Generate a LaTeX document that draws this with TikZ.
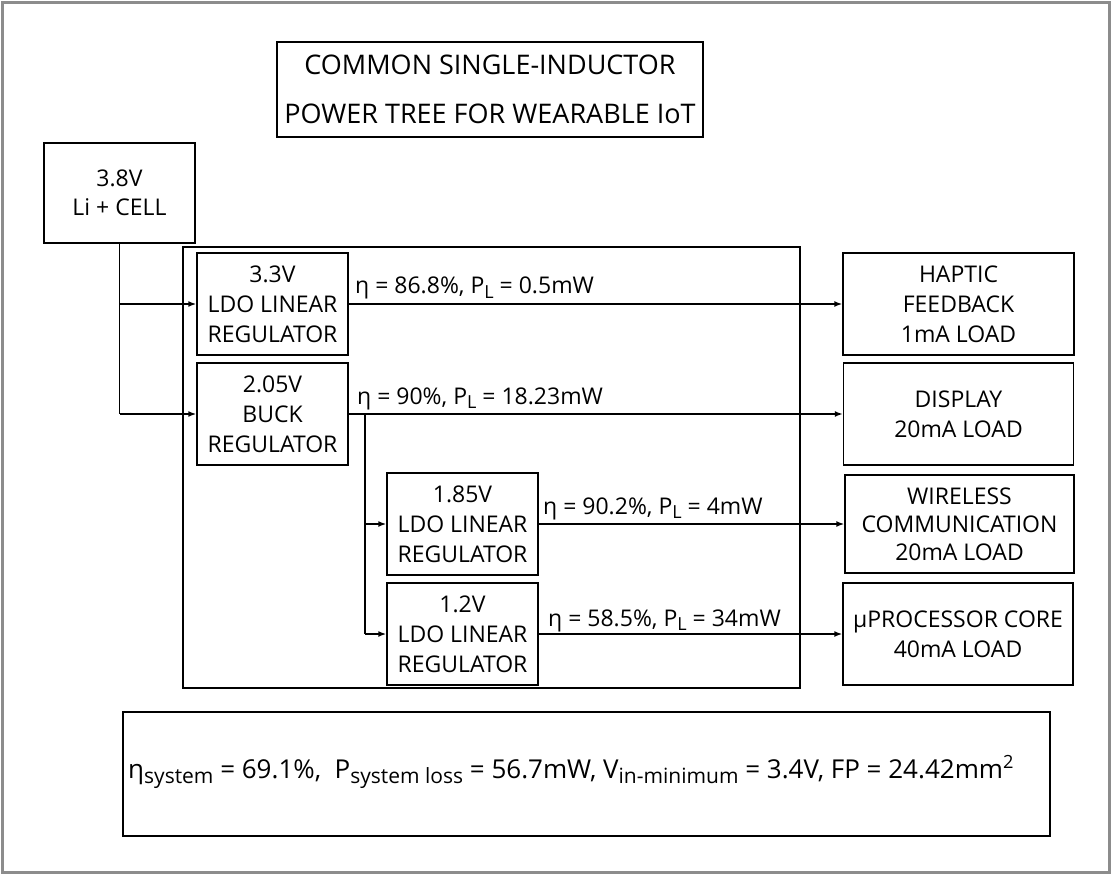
\documentclass[tikz,border=0pt]{standalone}
\usepackage{fontspec}
\setmainfont{Open Sans}
\usetikzlibrary{arrows.meta}
\newcommand{\lsub}[1]{\raisebox{-0.35ex}{\fontsize{18}{18}\selectfont #1}}
\newcommand{\bsub}[1]{\raisebox{-0.4ex}{\fontsize{21}{21}\selectfont #1}}
\begin{document}
\begin{tikzpicture}[x=1pt,y=-1pt,
  box/.style={draw=black, line width=1.5, inner sep=0pt, align=center,
    font=\fontsize{23}{30}\selectfont},
  lbl/.style={inner sep=0pt, anchor=base west, font=\fontsize{23}{26}\selectfont},
  conn/.style={draw=black, line width=1.5},
  arr/.style={conn, -{Latex[length=8,width=6]}}]
\useasboundingbox (0,0) rectangle (1113,874);
\draw[draw=gray!90, line width=3] (2.5,2.5) rectangle (1109,872);

% title
\node[box, minimum width=426, minimum height=95,
  font=\fontsize{27}{49}\selectfont] (title) at (490,89.5)
  {COMMON SINGLE-INDUCTOR\\POWER TREE FOR WEARABLE IoT};

% battery
\node[box, minimum width=151, minimum height=100, font=\fontsize{23}{29}\selectfont] (bat) at (119.5,193)
  {3.8V\\Li + CELL};

% container
\node[draw=black, line width=1.5, minimum width=617, minimum height=441, inner sep=0pt]
  (cont) at (491.5,467.5) {};

% regulators
\node[box, minimum width=151, minimum height=102] (ldo33) at (272.5,304)
  {3.3V\\LDO LINEAR\\REGULATOR};
\node[box, minimum width=151, minimum height=102] (buck) at (272.5,414)
  {2.05V\\BUCK\\REGULATOR};
\node[box, minimum width=151, minimum height=102] (ldo185) at (462.5,524)
  {1.85V\\LDO LINEAR\\REGULATOR};
\node[box, minimum width=151, minimum height=102] (ldo12) at (462.5,634)
  {1.2V\\LDO LINEAR\\REGULATOR};

% loads
\node[box, minimum width=231, minimum height=102] (haptic) at (958.5,304)
  {HAPTIC\\FEEDBACK\\1mA LOAD};
\node[box, minimum width=230, minimum height=102] (display) at (958.5,414)
  {DISPLAY\\20mA LOAD};
\node[box, minimum width=229, minimum height=98, font=\fontsize{23}{28}\selectfont] (wireless) at (959.5,524)
  {WIRELESS\\COMMUNICATION\\20mA LOAD};
\node[box, minimum width=230, minimum height=102] (uproc) at (958,634)
  {µPROCESSOR CORE\\40mA LOAD};

% summary
\node[draw=black, line width=1.5, minimum width=927, minimum height=124, inner sep=0pt]
  (summary) at (586.5,774) {};
\node[lbl, font=\fontsize{26}{30}\selectfont] (sumtxt) at (128,778)
  {η\bsub{system} = 69.1\%, \ P\bsub{system loss} = 56.7mW, V\bsub{in-minimum} = 3.4V, FP = 24.42mm\textsuperscript{2}};

% connectors from battery
\coordinate (bj1) at (bat.south |- ldo33.west);
\coordinate (bj2) at (bat.south |- buck.west);
\draw[conn] (bat.south) -- (bj2);
\draw[arr] (bj1) -- (ldo33.west);
\draw[arr] (bj2) -- (buck.west);

% outputs
\draw[arr] (ldo33.east) -- (haptic.west);
\draw[arr] (buck.east) -- (display.west);
\draw[arr] (ldo185.east) -- (wireless.west);
\draw[arr] (ldo12.east) -- (uproc.west);

% buck branch
\coordinate (bb) at (365,414);
\draw[conn] (bb) -- (bb |- ldo12.west);
\draw[arr] (bb |- ldo185.west) -- (ldo185.west);
\draw[arr] (bb |- ldo12.west) -- (ldo12.west);

% labels
\node[lbl] (l1) at (355,294) {η = 86.8\%, P\lsub{L} = 0.5mW};
\node[lbl] (l2) at (357,404) {η = 90\%, P\lsub{L} = 18.23mW};
\node[lbl] (l3) at (543,514) {η = 90.2\%, P\lsub{L} = 4mW};
\node[lbl] (l4) at (548,626) {η = 58.5\%, P\lsub{L} = 34mW};
\end{tikzpicture}
\end{document}
